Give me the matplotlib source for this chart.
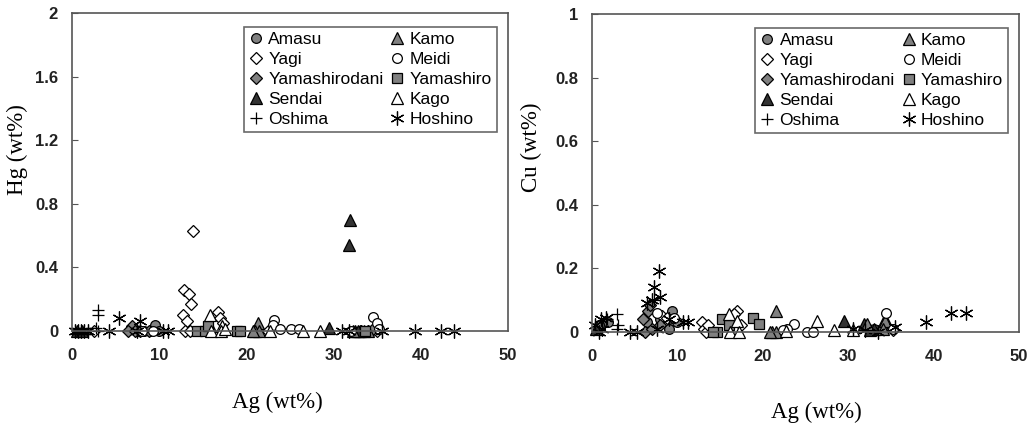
import matplotlib
matplotlib.use('Agg')
import matplotlib.pyplot as plt
from matplotlib.ticker import FuncFormatter

# series order = legend order (column-major, 2 columns)
names = ['Amasu', 'Yagi', 'Yamashirodani', 'Sendai', 'Oshima',
         'Kamo', 'Meidi', 'Yamashiro', 'Kago', 'Hoshino']

# ---- Hg vs Ag (left panel) ----
amasu_ag1 = [7.5, 8.3, 9.5, 9.0, 10.0, 33.0, 33.5, 34.2]
amasu_hg = [0, 0, 0.04, 0, 0, 0, 0, 0]
yagi_ag1 = [13.85, 12.9, 13.4, 13.7, 12.7, 13.2, 16.8, 17.0, 17.3, 13.0, 13.5, 22.5, 2.5, 34.0, 35.0]
yagi_hg = [0.63, 0.26, 0.23, 0.17, 0.10, 0.06, 0.12, 0.08, 0.05, 0, 0, 0, 0, 0, 0]
ymd_ag1 = [6.9, 6.4, 7.2, 7.8, 8.8, 33.2, 34.5]
ymd_hg = [0.03, 0, 0, 0, 0, 0, 0.01]
sendai_ag1 = [31.9, 31.8, 29.5, 32.5, 33.0, 33.5, 32.8, 0.6, 1.2]
sendai_hg = [0.70, 0.54, 0.02, 0, 0, 0, 0, 0, 0]
oshima_ag1 = [3.0, 3.0, 3.0, 2.8]
oshima_hg = [0.13, 0.10, 0, 0.02]
kamo_ag1 = [21.3, 21.0, 21.5, 20.8, 32.2, 34.0, 15.8]
kamo_hg = [0.05, 0, 0, 0, 0, 0, 0.03]
meidi_ag1 = [23.2, 23.1, 23.9, 25.1, 26.0, 34.5, 35.0, 35.2, 9.3, 8.0, 32.0]
meidi_hg = [0.07, 0.035, 0.01, 0.01, 0.01, 0.09, 0.05, 0.01, 0, 0, 0]
ymsr_ag1 = [14.3, 15.2, 15.6, 18.9, 19.3, 33.6]
ymsr_hg = [0, 0, 0.03, 0, 0, 0]
kago_ag1 = [15.8, 17.2, 16.0, 17.1, 22.7, 26.5, 28.4, 17.5]
kago_hg = [0.10, 0.03, 0, 0, 0, 0, 0, 0.01]
hosh_ag1 = [0.3, 0.7, 1.0, 1.4, 1.8, 4.3, 5.4, 7.8, 7.5, 10.4, 11.0, 31.0, 31.8, 35.5, 39.3, 42.3, 43.8]
hosh_hg = [0, 0, 0, 0, 0, 0, 0.08, 0.06, 0, 0, 0, 0, 0, 0, 0, 0, 0]

# ---- Cu vs Ag (right panel) ----
amasu_ag2 = [9.4, 9.0, 1.9, 6.4, 9.0, 8.0, 33.0, 0.8, 10.0]
amasu_cu = [0.065, 0.04, 0.03, 0.03, 0.01, 0.04, 0.01, 0.02, 0.03]
yagi_ag2 = [17.0, 16.6, 12.9, 13.1, 13.3, 17.4, 8.2, 8.8, 35.2, 13.6]
yagi_cu = [0.065, 0.055, 0.03, 0.01, 0.0, 0.02, 0.05, 0.045, 0.005, 0.02]
ymd_ag2 = [6.6, 6.8, 6.2, 7.0, 8.0, 34.0, 6.0]
ymd_cu = [0.065, 0.085, 0.0, 0.01, 0.02, 0.01, 0.04]
sendai_ag2 = [29.5, 34.3, 31.8, 33.0, 32.5, 0.5]
sendai_cu = [0.035, 0.04, 0.025, 0.01, 0.005, 0.01]
oshima_ag2 = [2.9, 2.9, 3.1, 1.8, 7.3]
oshima_cu = [0.055, 0.01, 0.02, 0.04, 0.10]
kamo_ag2 = [21.5, 21.1, 21.6, 20.8, 32.2, 34.3, 34.1]
kamo_cu = [0.065, 0.0, 0.0, 0.0, 0.025, 0.035, 0.01]
meidi_ag2 = [23.7, 22.8, 25.2, 25.9, 34.4, 7.6, 9.6, 35.3, 22.4]
meidi_cu = [0.025, 0.01, 0.0, 0.0, 0.06, 0.06, 0.045, 0.01, 0.007]
ymsr_ag2 = [18.9, 19.5, 15.2, 14.6, 14.2, 16.0]
ymsr_cu = [0.045, 0.025, 0.04, 0.0, 0.0, 0.02]
kago_ag2 = [16.0, 17.0, 16.2, 17.2, 26.3, 28.3, 22.7, 30.6]
kago_cu = [0.055, 0.035, 0.0, 0.0, 0.035, 0.007, 0.002, 0.007]
hosh_ag2 = [7.9, 7.3, 8.0, 6.4, 7.0, 39.1, 42.0, 43.8, 35.5, 30.6, 1.0, 1.6, 4.5, 5.3,
            10.7, 11.3, 9.0, 7.6, 0.4, 0.8, 1.2, 32.0, 33.5]
hosh_cu = [0.19, 0.14, 0.11, 0.09, 0.10, 0.03, 0.06, 0.06, 0.015, 0.01, 0.04, 0.045, 0.0, 0.0,
           0.03, 0.03, 0.04, 0.01, 0.02, 0.0, 0.01, 0.005, 0.0]

left_data = [(amasu_ag1, amasu_hg), (yagi_ag1, yagi_hg), (ymd_ag1, ymd_hg), (sendai_ag1, sendai_hg),
             (oshima_ag1, oshima_hg), (kamo_ag1, kamo_hg), (meidi_ag1, meidi_hg), (ymsr_ag1, ymsr_hg),
             (kago_ag1, kago_hg), (hosh_ag1, hosh_hg)]
right_data = [(amasu_ag2, amasu_cu), (yagi_ag2, yagi_cu), (ymd_ag2, ymd_cu), (sendai_ag2, sendai_cu),
              (oshima_ag2, oshima_cu), (kamo_ag2, kamo_cu), (meidi_ag2, meidi_cu), (ymsr_ag2, ymsr_cu),
              (kago_ag2, kago_cu), (hosh_ag2, hosh_cu)]

grey = '#808080'
dark = '#333333'
styles = [
    dict(marker='o', fc=grey, ms=7),
    dict(marker='D', fc='white', ms=6),
    dict(marker='D', fc=grey, ms=6),
    dict(marker='^', fc=dark, ms=8),
    dict(marker='+', fc='none', ms=9),
    dict(marker='^', fc=grey, ms=8),
    dict(marker='o', fc='white', ms=7),
    dict(marker='s', fc=grey, ms=7),
    dict(marker='^', fc='white', ms=8),
    dict(marker=(6, 2, 0), fc='none', ms=10),
]

sans = ['Liberation Sans', 'DejaVu Sans']
serif = ['Liberation Serif', 'DejaVu Serif']

fig = plt.figure(figsize=(10.34, 4.26), dpi=100)
ax1 = fig.add_axes([0.0696, 0.223, 0.4217, 0.746])
ax2 = fig.add_axes([0.5725, 0.221, 0.413, 0.746])


def draw(ax, data, ymax, ystep, ylabel, ylab_pos, xlab_pos):
    for (xs, ys), name, st in zip(data, names, styles):
        ax.plot(xs, ys, linestyle='none', marker=st['marker'], markersize=st['ms'],
                markerfacecolor=st['fc'], markeredgecolor='black', markeredgewidth=0.9,
                label=name, clip_on=False)
    ax.set_xlim(0, 50)
    ax.set_ylim(0, ymax)
    ax.set_xticks(range(0, 51, 10))
    yt = [round(i * ystep, 2) for i in range(int(round(ymax / ystep)) + 1)]
    ax.set_yticks(yt)
    ax.yaxis.set_major_formatter(FuncFormatter(lambda v, p: '%g' % v))
    ax.tick_params(axis='y', direction='in', length=4, color='#555555', pad=10)
    ax.tick_params(axis='x', length=0, pad=12)
    for lab in ax.get_xticklabels() + ax.get_yticklabels():
        lab.set_family(sans)
        lab.set_fontweight('bold')
        lab.set_fontsize(12)
        lab.set_color('#222222')
    for sp in ax.spines.values():
        sp.set_color('#555555')
        sp.set_linewidth(1.2)
    ax.set_ylabel(ylabel, family=serif, fontsize=16.5)
    ax.yaxis.set_label_coords(*ylab_pos)
    ax.set_xlabel('Ag (wt%)', family=serif, fontsize=16.5)
    ax.xaxis.set_label_coords(*xlab_pos)
    leg = ax.legend(loc='upper right', bbox_to_anchor=(0.975, 0.957), borderaxespad=0,
                    ncol=2, frameon=True, fancybox=False,
                    handlelength=0.8, handletextpad=0.3, columnspacing=0.4,
                    labelspacing=0.28, borderpad=0.3, prop=dict(family=sans, size=12.5))
    leg.get_frame().set_edgecolor('#444444')
    leg.get_frame().set_linewidth(1.2)


draw(ax1, left_data, 2, 0.4, 'Hg (wt%)', (-0.101, 0.57), (0.47, -0.19))
draw(ax2, right_data, 1, 0.2, 'Cu (wt%)', (-0.117, 0.58), (0.525, -0.22))

fig.savefig('out.png', dpi=100)
